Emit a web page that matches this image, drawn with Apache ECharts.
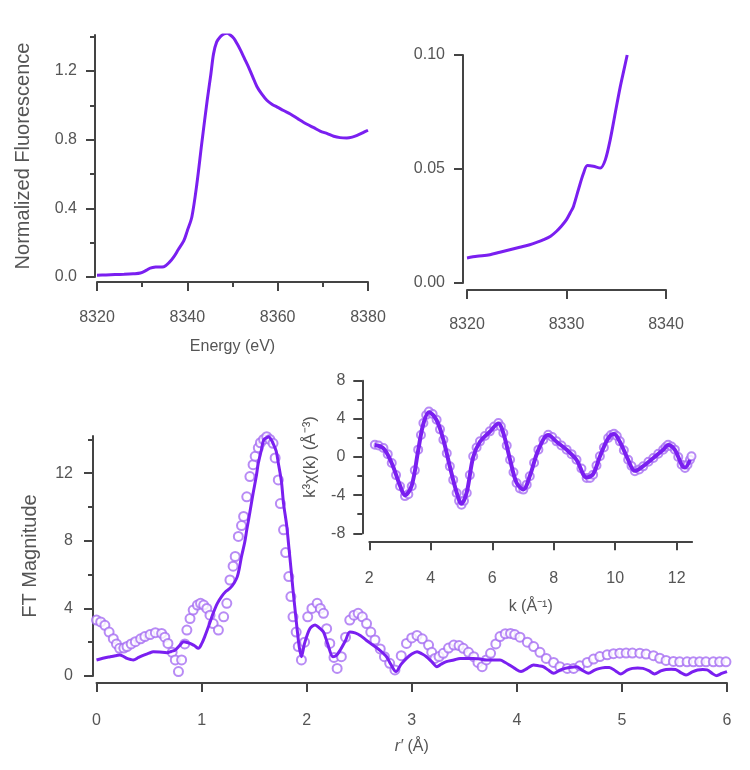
<!DOCTYPE html>
<html><head><meta charset="utf-8">
<script src="https://cdn.jsdelivr.net/npm/echarts@6/dist/echarts.min.js"></script>
<style>html,body{margin:0;padding:0;background:#fff}#c{width:750px;height:770px}</style>
</head><body><div id="c"></div>
<script>
// ---- XANES (top-left) ----
const xanesEnergy = [8320,8322,8324,8326,8328,8329.6,8331,8331.8,8333,8334.8,8336,8337,8338,8339.2,8340,8341,8342.1,8343.2,8344.4,8345.2,8345.8,8346.5,8347.3,8348,8348.8,8349.5,8350.3,8351,8351.8,8352.7,8353.6,8354.5,8355.4,8356.5,8357.6,8358.8,8359.9,8361.3,8362.8,8364.6,8366.5,8368,8369.4,8371,8372.4,8373.8,8375.3,8376.5,8377.6,8378.8,8380];
const xanesNorm = [0.01,0.012,0.014,0.016,0.019,0.023,0.04,0.052,0.058,0.06,0.085,0.117,0.16,0.21,0.27,0.35,0.54,0.78,1.03,1.18,1.30,1.37,1.40,1.415,1.42,1.41,1.39,1.36,1.32,1.27,1.22,1.165,1.11,1.065,1.03,1.005,0.99,0.97,0.95,0.92,0.89,0.87,0.85,0.835,0.82,0.812,0.81,0.815,0.825,0.84,0.855];
const xanesXTicks = [8320,8340,8360,8380];
const xanesXMinor = [8330,8350,8370];
const xanesYTicks = [0,0.4,0.8,1.2];
const xanesYMinor = [0.2,0.6,1.0,1.4];

// ---- Pre-edge (top-right) ----
const preEnergy = [8320,8321,8322.3,8323.3,8324.3,8325.3,8326.3,8327.1,8327.7,8328.4,8329,8329.5,8330,8330.4,8330.7,8331.2,8331.7,8332.1,8332.7,8333.4,8333.9,8334.4,8334.9,8335.4,8335.8,8336.1];
const preNorm = [0.011,0.0117,0.0124,0.0135,0.0146,0.0157,0.0168,0.018,0.019,0.0205,0.0227,0.025,0.0278,0.031,0.0336,0.041,0.048,0.0515,0.0512,0.0504,0.054,0.063,0.0746,0.086,0.094,0.100];
const preXTicks = [8320,8330,8340];
const preYTicks = [0,0.05,0.10];

// ---- EXAFS k-space (inset) ----
const kData = [2.18,2.3,2.46,2.6,2.73,2.87,3.0,3.16,3.27,3.38,3.48,3.59,3.68,3.76,3.85,3.94,4.06,4.19,4.3,4.41,4.52,4.62,4.73,4.84,4.92,5.0,5.08,5.17,5.27,5.38,5.49,5.6,5.76,5.92,6.06,6.2,6.28,6.36,6.47,6.58,6.69,6.79,6.9,7.01,7.12,7.22,7.36,7.5,7.66,7.82,7.95,8.09,8.25,8.42,8.58,8.74,8.9,9.07,9.18,9.28,9.39,9.5,9.63,9.77,9.86,9.96,10.05,10.15,10.28,10.42,10.53,10.64,10.78,10.91,11.08,11.24,11.4,11.56,11.64,11.72,11.83,11.94,12.05,12.16,12.27,12.35,12.43,12.48];
const chiData = [1.29,1.2,0.94,0.3,-0.63,-1.9,-3.07,-4.1,-3.9,-3.07,-1.4,0.77,2.3,3.56,4.4,4.78,4.5,3.9,2.9,1.8,0.4,-0.98,-2.4,-3.77,-4.6,-5.0,-4.6,-3.77,-1.9,0.07,1.0,1.64,2.2,2.69,3.2,3.56,3.2,2.51,1.2,-0.28,-1.6,-2.72,-3.3,-3.42,-2.9,-2.02,-0.6,0.77,1.8,2.34,2.1,1.64,1.2,0.77,0.3,-0.28,-1.2,-2.2,-2.2,-1.85,-0.9,0.07,1.0,1.99,2.3,2.44,2.2,1.64,0.7,-0.28,-0.95,-1.5,-1.3,-0.98,-0.5,-0.1,0.35,0.77,1.05,1.29,1.1,0.77,0.0,-0.8,-1.15,-0.8,-0.28,0.07];
const kFit = [2.18,2.46,2.73,3.0,3.16,3.38,3.59,3.76,3.94,4.19,4.41,4.62,4.84,5.0,5.17,5.38,5.6,5.92,6.2,6.36,6.58,6.79,7.01,7.22,7.5,7.82,8.09,8.42,8.74,9.07,9.28,9.5,9.77,9.96,10.15,10.42,10.64,10.91,11.24,11.56,11.72,11.94,12.16,12.27,12.43];
const chiFit = [1.25,0.9,-0.65,-3.0,-4.0,-3.0,0.7,3.5,4.7,3.85,1.8,-1.0,-3.7,-4.9,-3.7,0.0,1.6,2.65,3.5,2.5,-0.3,-2.7,-3.4,-2.0,0.75,2.3,1.6,0.75,-0.3,-2.15,-1.8,0.05,1.95,2.4,1.6,-0.3,-1.45,-0.95,-0.1,0.75,1.25,0.75,-0.8,-1.1,-0.3];
const kXTicks = [2,4,6,8,10,12];
const kYTicks = [-8,-4,0,4,8];
const kYMinor = [-6,-2,2,6];

// ---- EXAFS FT magnitude (bottom) ----
const rData = [0.0,0.04,0.08,0.12,0.16,0.19,0.22,0.26,0.29,0.33,0.37,0.42,0.46,0.51,0.56,0.62,0.65,0.68,0.72,0.75,0.78,0.81,0.84,0.86,0.89,0.92,0.96,0.99,1.02,1.05,1.08,1.11,1.16,1.21,1.24,1.27,1.3,1.32,1.35,1.38,1.4,1.43,1.46,1.49,1.51,1.54,1.56,1.59,1.62,1.65,1.68,1.7,1.73,1.75,1.78,1.8,1.83,1.85,1.87,1.9,1.92,1.95,1.98,2.01,2.05,2.1,2.13,2.16,2.19,2.22,2.26,2.29,2.33,2.37,2.41,2.45,2.49,2.53,2.57,2.61,2.65,2.7,2.74,2.79,2.84,2.9,2.95,3.0,3.05,3.1,3.16,3.19,3.22,3.26,3.3,3.35,3.4,3.45,3.49,3.54,3.59,3.63,3.67,3.71,3.75,3.8,3.84,3.89,3.94,3.98,4.03,4.1,4.16,4.22,4.28,4.35,4.41,4.48,4.54,4.6,4.67,4.73,4.79,4.86,4.92,4.98,5.04,5.1,5.17,5.23,5.3,5.36,5.42,5.49,5.55,5.62,5.68,5.74,5.8,5.87,5.93,5.99];
const ftData = [3.31,3.2,3.0,2.6,2.21,1.9,1.64,1.65,1.74,1.9,2.03,2.2,2.33,2.45,2.56,2.52,2.3,1.93,1.4,0.95,0.26,0.95,1.9,2.72,3.4,3.9,4.2,4.3,4.2,4.0,3.6,3.1,2.72,3.5,4.3,5.68,6.5,7.07,8.26,8.9,9.44,10.6,11.8,12.5,13.0,13.5,13.8,14.0,14.16,14.0,13.77,12.9,11.6,10.2,8.65,7.3,5.88,4.7,3.5,2.6,1.74,0.95,2.0,3.5,4.0,4.3,4.0,3.71,2.8,1.93,1.1,0.45,1.14,2.3,3.31,3.6,3.71,3.5,3.1,2.6,2.13,1.6,1.14,0.75,0.36,1.2,1.93,2.25,2.4,2.2,1.83,1.4,1.04,1.15,1.34,1.65,1.83,1.8,1.64,1.4,1.14,0.8,0.55,0.95,1.34,1.9,2.33,2.5,2.52,2.45,2.3,2.0,1.74,1.4,1.04,0.8,0.55,0.45,0.45,0.6,0.8,1.0,1.15,1.25,1.32,1.35,1.36,1.36,1.35,1.3,1.2,1.05,0.92,0.86,0.84,0.84,0.84,0.84,0.84,0.84,0.84,0.84];
const rFit = [0.0,0.06,0.13,0.18,0.22,0.26,0.29,0.33,0.35,0.4,0.45,0.5,0.54,0.6,0.67,0.71,0.75,0.79,0.83,0.89,0.93,0.97,1.0,1.03,1.07,1.11,1.15,1.19,1.23,1.27,1.31,1.34,1.36,1.38,1.41,1.43,1.46,1.49,1.52,1.54,1.57,1.59,1.62,1.64,1.66,1.68,1.71,1.73,1.76,1.78,1.81,1.83,1.85,1.87,1.89,1.91,1.93,1.95,1.98,2.03,2.08,2.12,2.16,2.2,2.25,2.28,2.32,2.37,2.41,2.46,2.51,2.57,2.63,2.7,2.76,2.8,2.85,2.9,2.95,3.0,3.05,3.1,3.14,3.19,3.24,3.28,3.33,3.4,3.46,3.52,3.59,3.65,3.71,3.78,3.84,3.89,3.93,3.98,4.04,4.1,4.16,4.21,4.25,4.3,4.35,4.41,4.46,4.52,4.57,4.62,4.68,4.74,4.79,4.84,4.88,4.94,4.99,5.05,5.1,5.15,5.2,5.26,5.31,5.37,5.42,5.47,5.51,5.56,5.61,5.67,5.72,5.77,5.81,5.86,5.9,5.95,6.0];
const ftFit = [0.95,1.05,1.14,1.2,1.24,1.15,1.04,0.97,0.95,1.1,1.24,1.35,1.44,1.42,1.38,1.45,1.54,1.8,2.03,1.93,1.8,1.64,1.9,2.33,3.0,3.71,4.3,4.7,5.0,5.19,5.5,5.88,6.4,7.07,7.9,8.65,9.7,10.8,11.8,12.6,13.4,13.96,14.1,14.16,14.0,13.77,13.3,12.6,11.5,10.2,8.9,7.66,6.4,5.1,3.9,2.72,1.7,1.14,1.93,2.8,3.02,2.85,2.6,1.9,1.14,1.2,1.54,2.1,2.6,2.55,2.4,2.1,1.83,1.5,1.14,0.7,0.26,0.7,1.04,1.3,1.44,1.3,1.14,0.85,0.55,0.7,0.85,0.95,1.04,1.04,1.04,1.0,0.95,0.95,0.95,0.8,0.65,0.45,0.26,0.45,0.65,0.6,0.55,0.35,0.16,0.35,0.45,0.52,0.55,0.35,0.16,0.35,0.45,0.5,0.51,0.3,0.12,0.35,0.45,0.47,0.45,0.3,0.12,0.3,0.39,0.4,0.39,0.2,0.06,0.25,0.36,0.38,0.36,0.15,0.02,0.15,0.26];
const ftXTicks = [0,1,2,3,4,5,6];
const ftYTicks = [0,4,8,12];
const ftYMinor = [2,6,10,14];

const zip = (a, b) => a.map((v, i) => [v, b[i]]);
const AX = '#444', TXT = '#555', FONT = '"Liberation Sans", Arial, sans-serif';
const LINE = '#7a1ff0', DOTS = '#a66ef2';

const xAxes = [], yAxes = [];
function addX(g, min, max, major, minor, offset, margin, fmt, name, nameGap, rich) {
  const idx = xAxes.length;
  xAxes.push({
    type: 'value', gridIndex: g, min, max, position: 'bottom', offset,
    axisLine: { show: true, onZero: false, lineStyle: { color: AX, width: 2 } },
    axisTick: { show: true, customValues: major, length: 9, lineStyle: { color: AX, width: 2 } },
    axisLabel: { customValues: major, margin, color: TXT, fontSize: 16, fontFamily: FONT, formatter: fmt },
    splitLine: { show: false },
    name: name || '', nameLocation: 'middle', nameGap: nameGap || 0,
    nameTextStyle: { color: TXT, fontSize: 16, fontFamily: FONT, rich: rich }
  });
  if (minor) xAxes.push({
    type: 'value', gridIndex: g, min, max, position: 'bottom', offset,
    axisLine: { show: false, onZero: false },
    axisTick: { show: true, customValues: minor, length: 5, lineStyle: { color: AX, width: 2 } },
    axisLabel: { show: false }, splitLine: { show: false }
  });
  return idx;
}
function addY(g, min, max, major, minor, offset, margin, fmt, name, nameGap, nameSize) {
  const idx = yAxes.length;
  yAxes.push({
    type: 'value', gridIndex: g, min, max, position: 'left', offset,
    axisLine: { show: true, onZero: false, lineStyle: { color: AX, width: 2 } },
    axisTick: { show: true, customValues: major, length: 9, lineStyle: { color: AX, width: 2 } },
    axisLabel: { customValues: major, margin, color: TXT, fontSize: 16, fontFamily: FONT, formatter: fmt },
    splitLine: { show: false },
    name: name || '', nameLocation: 'middle', nameGap: nameGap || 0,
    nameTextStyle: { color: TXT, fontSize: nameSize || 19, fontFamily: FONT }
  });
  if (minor) yAxes.push({
    type: 'value', gridIndex: g, min, max, position: 'left', offset,
    axisLine: { show: false, onZero: false },
    axisTick: { show: true, customValues: minor, length: 5, lineStyle: { color: AX, width: 2 } },
    axisLabel: { show: false }, splitLine: { show: false }
  });
  return idx;
}

const grids = [
  { left: 97, top: 35, width: 271, height: 242 },
  { left: 467, top: 55, width: 199, height: 228 },
  { left: 96.5, top: 436, width: 630.5, height: 240 },
  { left: 369.3, top: 380.7, width: 322.8, height: 152.6 }
];

const x0 = addX(0, 8320, 8380, xanesXTicks, xanesXMinor, 5, 28, v => String(v), 'Energy (eV)', 57);
const y0 = addY(0, 0, 1.41, xanesYTicks, xanesYMinor, 2, 18, v => v.toFixed(1), 'Normalized Fluorescence', 62, 20);
const x1 = addX(1, 8320, 8340, preXTicks, null, 7, 27, v => String(v));
const y1 = addY(1, 0, 0.10, preYTicks, null, 4, 18, v => v.toFixed(2));
const x2 = addX(2, 0, 6, ftXTicks, null, 7, 30, v => String(v), '{i|r′} (Å)', 56,
  { i: { fontStyle: 'italic', fontSize: 16, color: TXT, fontFamily: FONT } });
const y2 = addY(2, 0, 14.2, ftYTicks, ftYMinor, 3.5, 20, v => String(v), 'FT Magnitude', 53, 20);
const x3 = addX(3, 2, 12.5, kXTicks, null, 8, 29, v => String(v), 'k (Å⁻¹)', 57);
const y3 = addY(3, -8, 8, kYTicks, kYMinor, 7, 17, v => String(v), 'k³χ(k) (Å⁻³)', 43, 17);

const option = {
  animation: false,
  backgroundColor: '#fff',
  grid: grids,
  xAxis: xAxes,
  yAxis: yAxes,
  series: [
    { type: 'line', xAxisIndex: x0, yAxisIndex: y0, data: zip(xanesEnergy, xanesNorm), showSymbol: false, smooth: 0.3,
      lineStyle: { color: LINE, width: 3 } },
    { type: 'line', xAxisIndex: x1, yAxisIndex: y1, data: zip(preEnergy, preNorm), showSymbol: false, smooth: 0.3,
      lineStyle: { color: LINE, width: 3 } },
    { type: 'scatter', xAxisIndex: x2, yAxisIndex: y2, data: zip(rData, ftData), symbol: 'emptyCircle', symbolSize: 9, clip: false,
      itemStyle: { color: DOTS, borderColor: DOTS, borderWidth: 2, opacity: 0.8 } },
    { type: 'line', xAxisIndex: x2, yAxisIndex: y2, data: zip(rFit, ftFit), showSymbol: false, smooth: 0.3,
      lineStyle: { color: LINE, width: 3 } },
    { type: 'scatter', xAxisIndex: x3, yAxisIndex: y3, data: zip(kData, chiData), symbol: 'emptyCircle', symbolSize: 8, clip: false,
      itemStyle: { color: DOTS, borderColor: DOTS, borderWidth: 2 } },
    { type: 'line', xAxisIndex: x3, yAxisIndex: y3, data: zip(kFit, chiFit), showSymbol: false, smooth: 0.35,
      lineStyle: { color: LINE, width: 4 } }
  ]
};
const chart = echarts.init(document.getElementById('c'), null, { renderer: 'canvas' });
chart.setOption(option);
</script>
</body></html>
